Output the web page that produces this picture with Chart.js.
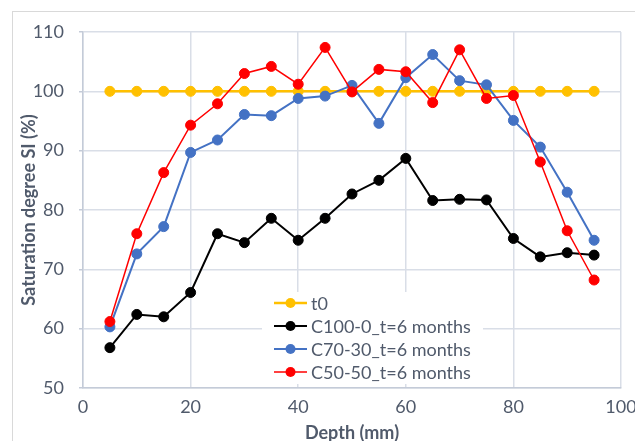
<!DOCTYPE html>
<html>
<head>
<meta charset="utf-8">
<script src="https://cdn.jsdelivr.net/npm/chart.js@4.4.1/dist/chart.umd.min.js"></script>
<style>
  html, body { margin: 0; padding: 0; background: #fff; }
  #wrap { width: 635px; height: 441px; }
</style>
</head>
<body>
<div id="wrap"><canvas id="myChart" width="635" height="441"></canvas></div>
<script>
const depth = [5, 10, 15, 20, 25, 30, 35, 40, 45, 50, 55, 60, 65, 70, 75, 80, 85, 90, 95]
const t0 = [100, 100, 100, 100, 100, 100, 100, 100, 100, 100, 100, 100, 100, 100, 100, 100, 100, 100, 100]
const c100_0 = [56.8, 62.4, 62.0, 66.1, 76.0, 74.5, 78.6, 74.9, 78.6, 82.7, 85.0, 88.7, 81.6, 81.8, 81.7, 75.2, 72.1, 72.8, 72.4]
const c70_30 = [60.3, 72.6, 77.2, 89.7, 91.8, 96.1, 95.9, 98.8, 99.2, 101.0, 94.6, 102.3, 106.2, 101.8, 101.1, 95.1, 90.6, 83.0, 74.9]
const c50_50 = [61.2, 76.0, 86.3, 94.3, 97.9, 103.0, 104.2, 101.2, 107.4, 99.9, 103.7, 103.3, 98.1, 107.0, 98.8, 99.3, 88.1, 76.5, 68.2]
const seriesNames = ['t0', 'C100-0_t=6 months', 'C70-30_t=6 months', 'C50-50_t=6 months']
const seriesColors = ['#FFC000', '#000000', '#4472C4', '#FF0000']

const textColor = '#505a6b'
const gridColor = '#d9dee7'
const fontFamily = 'Lato, "Open Sans", sans-serif'

const toPoints = (arr) => arr.map((v, i) => ({ x: depth[i], y: v }))

const makeSet = (i, values, width, order) => ({
    label: seriesNames[i],
    data: toPoints(values),
    borderColor: seriesColors[i],
    backgroundColor: seriesColors[i],
    pointBackgroundColor: seriesColors[i],
    pointBorderColor: seriesColors[i],
    borderWidth: width,
    pointRadius: 5,
    pointBorderWidth: 1,
    tension: 0,
    order: order,
})

// outer frame of the chart
const framePlugin = {
    id: 'frame',
    beforeDraw(chart) {
        const c = chart.ctx
        c.save()
        c.fillStyle = '#fff'
        c.fillRect(0, 0, chart.width, chart.height)
        c.strokeStyle = '#d9d9d9'
        c.lineWidth = 1
        c.strokeRect(12.5, 11.5, chart.width + 20, chart.height + 20)
        c.restore()
    }
}

// legend drawn inside the plot area, lower middle
const legendPlugin = {
    id: 'innerLegend',
    afterDatasetsDraw(chart) {
        const c = chart.ctx
        c.save()
        c.fillStyle = '#fff'
        c.fillRect(262, 292, 221, 92)
        c.font = '18px ' + fontFamily
        c.textBaseline = 'middle'
        c.textAlign = 'left'
        const rows = [303, 326, 349, 372]
        chart.data.datasets.forEach((ds, i) => {
            const y = rows[i]
            c.strokeStyle = ds.borderColor
            c.lineWidth = ds.borderWidth
            c.beginPath()
            c.moveTo(274, y)
            c.lineTo(307, y)
            c.stroke()
            c.fillStyle = ds.borderColor
            c.beginPath()
            c.arc(290.5, y, 5, 0, Math.PI * 2)
            c.fill()
            c.fillStyle = textColor
            c.fillText(ds.label, 311, y + 1)
        })
        c.restore()
    }
}

const ctx = document.getElementById('myChart')

new Chart(ctx, {
    type: 'line',
    data: {
        datasets: [
            makeSet(0, t0, 2.5, 4),
            makeSet(1, c100_0, 2, 3),
            makeSet(2, c70_30, 2, 2),
            makeSet(3, c50_50, 1.5, 1),
        ],
    },
    options: {
        responsive: false,
        animation: false,
        layout: { autoPadding: false, padding: { left: 0, right: 14, top: 32, bottom: 0 } },
        plugins: {
            legend: { display: false },
            tooltip: { enabled: false },
        },
        scales: {
            x: {
                type: 'linear',
                min: 0,
                max: 100,
                ticks: { stepSize: 20, color: textColor, font: { size: 18, family: fontFamily }, padding: 8, maxRotation: 0 },
                grid: { color: gridColor, lineWidth: 1.5, drawTicks: false },
                border: { color: '#c4cbd8', width: 1.5 },
                title: { display: true, text: 'Depth (mm)', color: textColor, font: { size: 18, weight: 'bold', family: fontFamily }, padding: { top: 0, bottom: -3 } },
                afterFit(scale) {
                    scale.height = 53
                    scale.paddingLeft = 0
                    scale.paddingRight = 0
                },
            },
            y: {
                min: 50,
                max: 110,
                ticks: { stepSize: 10, color: textColor, font: { size: 18, family: fontFamily }, padding: 15 },
                grid: { color: gridColor, lineWidth: 1.5, drawTicks: true, tickLength: 4, tickColor: '#c4cbd8' },
                border: { color: '#c4cbd8', width: 1.5 },
                title: { display: true, text: 'Saturation degree SI (%)', color: textColor, font: { size: 18, weight: 'bold', family: fontFamily }, padding: { top: 18, bottom: 0 } },
                afterFit(scale) {
                    scale.width = 83
                    scale.paddingTop = 0
                    scale.paddingBottom = 0
                },
            },
        },
    },
    plugins: [framePlugin, legendPlugin],
})
</script>
</body>
</html>
